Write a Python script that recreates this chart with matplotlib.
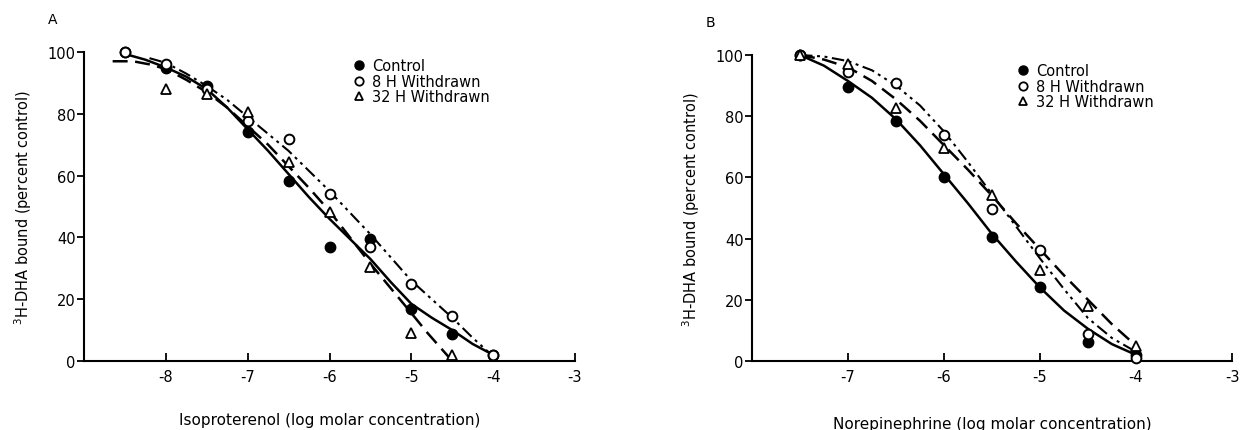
import matplotlib
matplotlib.use("Agg")
import matplotlib.pyplot as plt
from matplotlib.lines import Line2D

plt.rcParams['font.family'] = ['DejaVu Sans']
plt.rcParams['axes.unicode_minus'] = False

# ---------------- Panel A: Isoproterenol ----------------
iso_x = [-8.5, -8.0, -7.5, -7.0, -6.5, -6.0, -5.5, -5.0, -4.5, -4.0]
iso_control = [100, 94.8, 89, 74.2, 58.2, 37, 39.5, 16.8, 8.7, 2]
iso_8h_x = [-8.5, -8.0, -7.5, -7.0, -6.5, -6.0, -5.5, -5.0, -4.5, -4.0]
iso_8h = [100, 96, 88, 77.8, 72, 54, 37, 25, 14.7, 2]
iso_32h_x = [-8.0, -7.5, -7.0, -6.5, -6.0, -5.5, -5.0, -4.5]
iso_32h = [88, 86.4, 80.7, 64.3, 48.1, 30.3, 9, 2]

# fitted curves as drawn in the figure
iso_fit_control_x = [-8.45, -8.25, -8.0, -7.75, -7.5, -7.25, -7.0, -6.75, -6.5, -6.25, -6.0, -5.75, -5.5, -5.25, -5.0, -4.75, -4.5, -4.25, -4.0]
iso_fit_control = [99, 97.5, 95, 92, 88, 82, 75, 68, 60.5, 53, 46, 39.5, 33, 25.5, 18.5, 14, 10, 5.5, 2]
iso_fit_8h_x = [-8.2, -8.0, -7.75, -7.5, -7.25, -7.0, -6.75, -6.5, -6.25, -6.0, -5.75, -5.5, -5.25, -5.0, -4.75, -4.5, -4.25, -4.0]
iso_fit_8h = [98, 96.5, 93, 89, 84.5, 79, 73.5, 68, 61.5, 55, 48, 41, 33.5, 26, 20, 14, 7.5, 1.5]
iso_fit_32h_x = [-8.65, -8.4, -8.2, -8.0, -7.75, -7.5, -7.25, -7.0, -6.75, -6.5, -6.25, -6.0, -5.75, -5.5, -5.25, -5.0, -4.8, -4.6, -4.5]
iso_fit_32h = [97, 97, 96, 94.5, 91, 87, 82, 76, 70, 63, 56, 48.5, 40, 31.5, 23.5, 15.5, 9, 3, 0]

# ---------------- Panel B: Norepinephrine ----------------
ne_x = [-7.5, -7.0, -6.5, -6.0, -5.5, -5.0, -4.5, -4.0]
ne_control = [100, 89.7, 78.5, 60, 40.6, 24.2, 6.2, 2]
ne_8h = [100, 94.4, 91, 74, 49.6, 36.2, 8.9, 1]
ne_32h = [100, 97, 82.8, 69.5, 54.2, 29.6, 18.1, 5]

ne_fit_x = [-7.5, -7.25, -7.0, -6.75, -6.5, -6.25, -6.0, -5.75, -5.5, -5.25, -5.0, -4.75, -4.5, -4.25, -4.0]
ne_fit_control = [100, 96.5, 91.5, 86, 79, 70.5, 61, 51.5, 41.5, 32.5, 24, 16.5, 10.5, 5.5, 2]
ne_fit_8h = [100, 99.5, 98, 95, 90, 83.5, 75, 65, 54.5, 44, 33.5, 23.5, 14, 7.5, 3]
ne_fit_32h = [100, 98.5, 96, 91.5, 85.5, 78.5, 70.5, 62.5, 54, 45, 36.5, 28, 20, 12, 5]

yticks = [0, 20, 40, 60, 80, 100]
iso_ticks = [-8, -7, -6, -5, -4, -3]
ne_ticks = [-7, -6, -5, -4, -3]
legend_labels = ["Control", "8 H Withdrawn", "32 H Withdrawn"]
ylabel = "$^3$H-DHA bound (percent control)"

W, H = 1243, 431
fig = plt.figure(figsize=(W / 100, H / 100), dpi=100)

def fr(x0, y_top, x1, y_bot):
    return [x0 / W, 1 - y_bot / H, (x1 - x0) / W, (y_bot - y_top) / H]

axA = fig.add_axes(fr(84, 53, 575, 362))
axB = fig.add_axes(fr(752, 56, 1232, 362))

solid = dict(color='black', lw=1.8, linestyle='-')
dashed = dict(color='black', lw=1.8, linestyle=(0, (6, 3)))
dashdot2 = dict(color='black', lw=1.5, linestyle=(0, (6, 2.2, 1.4, 2.2, 1.4, 2.2)))

mk_fill = dict(marker='o', ms=7.5, mfc='black', mec='black', linestyle='none', clip_on=False, zorder=5)
mk_open = dict(marker='o', ms=7, mfc='white', mec='black', mew=1.4, linestyle='none', clip_on=False, zorder=6)
mk_tri = dict(marker='^', ms=7, mfc='white', mec='black', mew=1.3, linestyle='none', clip_on=False, zorder=6)

# Panel A
axA.plot(iso_fit_control_x, iso_fit_control, clip_on=False, **solid)
axA.plot(iso_fit_8h_x, iso_fit_8h, clip_on=False, **dashdot2)
axA.plot(iso_fit_32h_x, iso_fit_32h, clip_on=False, **dashed)
axA.plot(iso_8h_x, iso_8h, **mk_open)
axA.plot(iso_32h_x, iso_32h, **mk_tri)
axA.plot(iso_x, iso_control, **mk_fill)
axA.set_xlim(-9, -3)
axA.set_xticks(iso_ticks)
axA.set_xticklabels([str(t) for t in iso_ticks])

# Panel B
axB.plot(ne_fit_x, ne_fit_control, clip_on=False, **solid)
axB.plot(ne_fit_x, ne_fit_8h, clip_on=False, **dashdot2)
axB.plot(ne_fit_x, ne_fit_32h, clip_on=False, **dashed)
axB.plot(ne_x, ne_8h, **mk_open)
axB.plot(ne_x, ne_32h, **mk_tri)
axB.plot(ne_x, ne_control, **mk_fill)
axB.set_xlim(-8, -3)
axB.set_xticks(ne_ticks)
axB.set_xticklabels([str(t) for t in ne_ticks])

for ax in (axA, axB):
    ax.set_ylim(0, 100)
    ax.set_yticks(yticks)
    ax.set_yticklabels([str(t) for t in yticks])
    for s in ('top', 'right'):
        ax.spines[s].set_visible(False)
    for s in ('left', 'bottom'):
        ax.spines[s].set_linewidth(1.5)
    ax.tick_params(axis='y', direction='out', length=5, width=1.3, labelsize=10.5, pad=1)
    ax.tick_params(axis='x', direction='in', length=6, width=1.3, labelsize=10.5, pad=6)
    ax.set_facecolor('none')

axA.set_ylabel(ylabel, fontsize=10.5, labelpad=10)
axB.set_ylabel(ylabel, fontsize=10.5, labelpad=10)
axA.set_xlabel("Isoproterenol (log molar concentration)", fontsize=11, labelpad=20)
axB.set_xlabel("Norepinephrine (log molar concentration)", fontsize=11, labelpad=23)

fig.text(53 / W, 1 - 20 / H, "A", fontsize=10, ha='center', va='center')
fig.text(710 / W, 1 - 23 / H, "B", fontsize=10, ha='center', va='center')

handles = [
    Line2D([], [], marker='o', ms=6.5, mfc='black', mec='black', linestyle='none'),
    Line2D([], [], marker='o', ms=6, mfc='white', mec='black', mew=1.3, linestyle='none'),
    Line2D([], [], marker='^', ms=6, mfc='white', mec='black', mew=1.3, linestyle='none'),
]
for ax, (lx, ly) in ((axA, (355, 59)), (axB, (1019, 64))):
    ax.legend(handles, legend_labels, loc='upper left',
              bbox_to_anchor=(lx / W, 1 - ly / H), bbox_transform=fig.transFigure,
              frameon=False, fontsize=10.5, handlelength=0.6, handletextpad=0.6,
              labelspacing=0.05, borderpad=0, borderaxespad=0)

fig.savefig("out.png", dpi=100)
